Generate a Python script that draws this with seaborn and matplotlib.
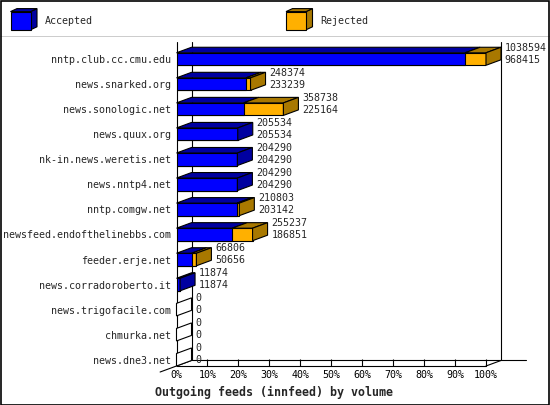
import numpy as np
import pandas as pd
import seaborn as sns
import matplotlib.pyplot as plt
from matplotlib.patches import Polygon, Rectangle

plt.switch_backend("Agg")

hosts = ["nntp.club.cc.cmu.edu", "news.snarked.org", "news.sonologic.net",
         "news.quux.org", "nk-in.news.weretis.net", "news.nntp4.net",
         "nntp.comgw.net", "newsfeed.endofthelinebbs.com", "feeder.erje.net",
         "news.corradoroberto.it", "news.trigofacile.com", "chmurka.net",
         "news.dne3.net"]
total = [1038594, 248374, 358738, 205534, 204290, 204290, 210803,
         255237, 66806, 11874, 0, 0, 0]
accepted = [968415, 233239, 225164, 205534, 204290, 204290, 203142,
            186851, 50656, 11874, 0, 0, 0]
ticks = [0, 10, 20, 30, 40, 50, 60, 70, 80, 90, 100]
title = "Outgoing feeds (innfeed) by volume"

BLUE, DBLUE = "#0000ff", "#0000a0"
ORANGE, DORANGE = "#ffb000", "#a87800"

sns.set_style("white")
plt.rcParams["font.family"] = ["DejaVu Sans Mono"]
FS = 7.2

vmax = max(total)
df = pd.DataFrame({"host": hosts,
                   "total": np.array(total) / vmax * 100,
                   "accepted": np.array(accepted) / vmax * 100})

W, H = 550, 405
fig = plt.figure(figsize=(5.5, 4.05), dpi=100)
ax = fig.add_axes([176.5 / W, 1 - 366 / H, 309.5 / W, (366 - 42) / H])

h = 0.5            # bar thickness (category units)
DX, DY = 4.85, 0.22  # 3d depth in data units

sns.barplot(data=df, x="total", y="host", orient="h", color=ORANGE,
            saturation=1, width=h, edgecolor="black", linewidth=0.8,
            ax=ax, zorder=3)
sns.barplot(data=df, x="accepted", y="host", orient="h", color=BLUE,
            saturation=1, width=h, edgecolor="black", linewidth=0.8,
            ax=ax, zorder=3)

floor = len(hosts) - 1 + h / 2
ax.set_xlim(0, 100)
ax.set_ylim(floor, -0.68)

# 3d faces
for i, row in df.iterrows():
    top, bot = i - h / 2, i + h / 2
    a, t = row["accepted"], row["total"]
    segs = [(0, a, DBLUE), (a, t, DORANGE)]
    for x0, x1, c in segs:
        if x1 > x0:
            ax.add_patch(Polygon([(x0, top), (x1, top), (x1 + DX, top - DY),
                                  (x0 + DX, top - DY)], closed=True, fc=c,
                                 ec="black", lw=0.8, zorder=3, clip_on=False))
    if t > a:
        side = DORANGE
    elif t > 0:
        side = DBLUE
    else:
        side = "white"
    ax.add_patch(Polygon([(t, top), (t, bot), (t + DX, bot - DY),
                          (t + DX, top - DY)], closed=True, fc=side,
                         ec="black", lw=0.8, zorder=3, clip_on=False))
    ax.text(t + DX + 1.2, i - 0.22,
            f"{total[i]}\n{accepted[i]}", ha="left", va="center",
            fontsize=FS, linespacing=1.25, zorder=4, clip_on=False)

# walls and floor
ytop = -0.68
ax.plot([0, 0], [floor, ytop], color="black", lw=0.8, zorder=2, clip_on=False)
ax.plot([DX, DX], [floor - DY, ytop], color="black", lw=0.8, zorder=1, clip_on=False)
ax.plot([100 + DX, 100 + DX], [floor - DY, ytop], color="black", lw=0.8,
        zorder=1, clip_on=False)
ax.plot([DX, 112.9], [floor - DY, floor - DY], color="black", lw=0.8,
        zorder=1, clip_on=False)
ax.plot([0, 100], [floor, floor], color="black", lw=0.8, zorder=2, clip_on=False)
ax.plot([100, 100 + DX], [floor, floor - DY], color="black", lw=0.8,
        zorder=2, clip_on=False)
ax.plot([-5.3, DX], [floor + 0.24, floor - DY], color="black", lw=0.8,
        zorder=2, clip_on=False)

for s in ax.spines.values():
    s.set_visible(False)
ax.set_xticks(ticks)
ax.set_xticklabels([f"{v}%" for v in ticks], fontsize=FS)
ax.tick_params(axis="x", direction="in", length=5, width=0.8, pad=3,
               bottom=True, colors="black")
ax.tick_params(axis="y", length=0, pad=4, labelsize=FS)
ax.set_xlabel("")
ax.set_ylabel("")
ax.set_facecolor("none")

fig.text(274 / W, 1 - 392 / H, title, ha="center", va="center",
         fontsize=8.4, fontweight="bold")

# legend strip
lg = fig.add_axes([0, 1 - 37 / H, 1, 37 / H])
lg.set_xlim(0, W)
lg.set_ylim(37, 0)
lg.axis("off")
for x0, fc, dc, label in [(10.5, BLUE, DBLUE, "Accepted"),
                          (286, ORANGE, DORANGE, "Rejected")]:
    y0, y1, w = 11.6, 29.8, 20
    lg.add_patch(Polygon([(x0 + w, y0), (x0 + w + 6.5, y0 - 3),
                          (x0 + w + 6.5, y1 - 3), (x0 + w, y1)],
                         fc=dc, ec="black", lw=0.8))
    lg.add_patch(Polygon([(x0, y0), (x0 + 6.5, y0 - 3), (x0 + w + 6.5, y0 - 3),
                          (x0 + w, y0)], fc=dc, ec="black", lw=0.8))
    lg.add_patch(Rectangle((x0, y0), w, y1 - y0, fc=fc, ec="black", lw=0.8))
    lg.text(x0 + 34, 20.5, label, ha="left", va="center", fontsize=FS)
lg.plot([0, W], [36.5, 36.5], color="black", lw=1)

fig.add_artist(Rectangle((0.5 / W, 0.5 / H), 1 - 1.5 / W, 1 - 1.5 / H,
                         transform=fig.transFigure, fill=False,
                         ec="black", lw=1.2))

fig.savefig("out.png", dpi=100)
